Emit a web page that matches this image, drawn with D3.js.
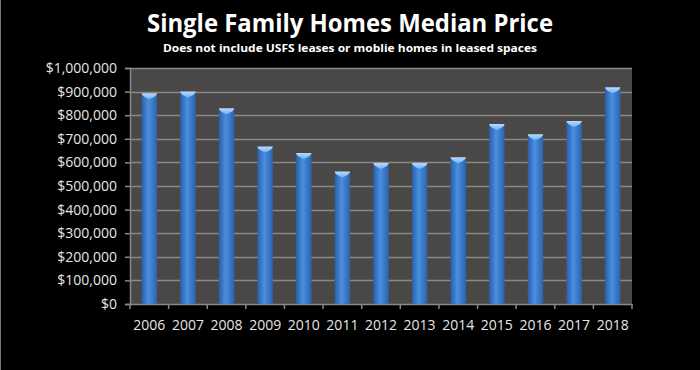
<!DOCTYPE html>
<html><head><meta charset="utf-8">
<script src="https://cdn.jsdelivr.net/npm/d3@7"></script>
<style>html,body{margin:0;padding:0;background:#000;}svg{display:block;}</style>
</head><body>
<script>
const years = ["2006","2007","2008","2009","2010","2011","2012","2013","2014","2015","2016","2017","2018"];
const medianPrice = [893000, 900000, 829000, 667000, 640000, 561000, 597000, 597000, 622000, 763000, 719000, 775000, 918000];
const yTicks = [0,100000,200000,300000,400000,500000,600000,700000,800000,900000,1000000];
const titleText = "Single Family Homes Median Price";
const subtitleText = "Does not include USFS leases or moblie homes in leased spaces";

const W = 700, H = 370;
const m = {left:130, right:68, top:68, bottom:66};
const svg = d3.select("body").append("svg").attr("width",W).attr("height",H);
svg.append("rect").attr("width",W).attr("height",H).attr("fill","#000");
svg.append("line").attr("x1",0.5).attr("x2",0.5).attr("y1",0).attr("y2",H).attr("stroke","#777").attr("stroke-width",1);

const defs = svg.append("defs");
const g1 = defs.append("linearGradient").attr("id","barGrad").attr("x1","0").attr("x2","1").attr("y1","0").attr("y2","0");
g1.append("stop").attr("offset","0%").attr("stop-color","#2a5ea8");
g1.append("stop").attr("offset","45%").attr("stop-color","#4a8fe0");
g1.append("stop").attr("offset","100%").attr("stop-color","#2c62ae");
const g2 = defs.append("linearGradient").attr("id","capGrad").attr("x1","0").attr("x2","0").attr("y1","0").attr("y2","1");
g2.append("stop").attr("offset","0%").attr("stop-color","#b5dcff");
g2.append("stop").attr("offset","100%").attr("stop-color","#6fb0f0");

const x = d3.scaleBand().domain(years).range([m.left, W-m.right]).paddingInner(0.6).paddingOuter(0.3);
const y = d3.scaleLinear().domain([0,1000000]).range([H-m.bottom, m.top]);

// plot area
svg.append("rect").attr("x",m.left).attr("y",m.top).attr("width",W-m.right-m.left).attr("height",H-m.bottom-m.top).attr("fill","#4a4846");

// gridlines
svg.append("g").selectAll("line").data(yTicks.filter(d=>d>0)).join("line")
  .attr("x1",m.left).attr("x2",W-m.right)
  .attr("y1",d=>Math.round(y(d))+0.5).attr("y2",d=>Math.round(y(d))+0.5)
  .attr("stroke","#8a8886").attr("stroke-width",1.5);

// y axis
const fmt = d3.format("$,.0f");
const yAxis = svg.append("g").attr("transform",`translate(${m.left},0)`)
  .call(d3.axisLeft(y).tickValues(yTicks).tickFormat(fmt).tickSize(5).tickPadding(8));
yAxis.select(".domain").attr("stroke","#8a8886").attr("stroke-width",1.5);
yAxis.selectAll(".tick line").attr("stroke","#8a8886").attr("stroke-width",1.5);
yAxis.selectAll("text").attr("fill","#e6e6e6").style("font-family","'Open Sans', sans-serif").style("font-size","14px");

// x axis
const xAxis = svg.append("g").attr("transform",`translate(0,${H-m.bottom})`)
  .call(d3.axisBottom(x).tickSize(0).tickPadding(16));
xAxis.select(".domain").attr("stroke","#8a8886").attr("stroke-width",1.5);
xAxis.selectAll("text").attr("fill","#e6e6e6").style("font-family","'Open Sans', sans-serif").style("font-size","14px");
// category boundary ticks
const bounds = d3.range(years.length+1).map(i => m.left + i*(W-m.right-m.left)/years.length);
svg.append("g").selectAll("line").data(bounds).join("line")
  .attr("x1",d=>d).attr("x2",d=>d).attr("y1",H-m.bottom).attr("y2",H-m.bottom+5)
  .attr("stroke","#8a8886").attr("stroke-width",1.5);

// bars
const data = years.map((yr,i)=>({yr, v:medianPrice[i]}));
const bars = svg.append("g");
bars.selectAll("rect").data(data).join("rect")
  .attr("x",d=>x(d.yr)).attr("width",x.bandwidth())
  .attr("y",d=>y(d.v)+2).attr("height",d=>y(0)-y(d.v)-2)
  .attr("fill","url(#barGrad)");
bars.selectAll("path.cap").data(data).join("path").attr("class","cap")
  .attr("d",d=>{
    const x0=x(d.yr), w=x.bandwidth(), t=y(d.v);
    return `M${x0},${t} L${x0+w},${t} Q${x0+w},${t+3} ${x0+w/2},${t+6} Q${x0},${t+3} ${x0},${t} Z`;
  })
  .attr("fill","url(#capGrad)");

// titles
svg.append("text").attr("x",350).attr("y",32).attr("text-anchor","middle")
  .attr("fill","#fff").style("font-family","'Open Sans', sans-serif").style("font-weight","bold").style("font-size","25px")
  .attr("textLength",406).attr("lengthAdjust","spacingAndGlyphs").text(titleText);
svg.append("text").attr("x",350).attr("y",52).attr("text-anchor","middle")
  .attr("fill","#fff").style("font-family","'Open Sans', sans-serif").style("font-weight","bold").style("font-size","11px")
  .attr("textLength",374).attr("lengthAdjust","spacingAndGlyphs").text(subtitleText);
</script>
</body></html>
